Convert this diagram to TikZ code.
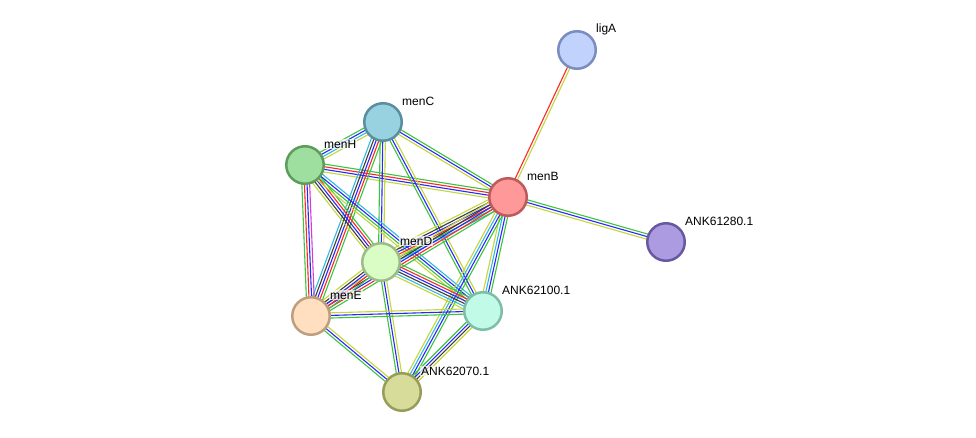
\documentclass[tikz,border=0pt]{standalone}
\usepackage{fontspec}
\setmainfont{Liberation Sans}
\usetikzlibrary{calc}

\definecolor{sgreen}{RGB}{60,196,60}
\definecolor{sred}{RGB}{250,40,40}
\definecolor{sblue}{RGB}{40,40,250}
\definecolor{sblack}{RGB}{60,60,60}
\definecolor{scyan}{RGB}{50,185,225}
\definecolor{smag}{RGB}{210,60,210}
\definecolor{syel}{RGB}{196,214,60}

% one bundle of parallel evidence lines between two nodes
\newcommand{\evlink}[4]{%
  \foreach \c [count=\i] in {#4}{
    \pgfmathsetmacro{\off}{(\i-(#3+1)/2)*2.6}
    \draw[\c,line width=1.1pt] ($(#1)!\off pt!90:(#2)$) -- ($(#2)!\off pt!-90:(#1)$);
  }%
}

\begin{document}
\begin{tikzpicture}[x=1pt,y=-1pt,
  gene/.style={circle,draw,line width=2.5pt,minimum size=37.5pt,inner sep=0pt},
  lbl/.style={anchor=west,font=\fontsize{12}{14}\selectfont,inner sep=1pt,
    fill=white,fill opacity=0.7,text opacity=1}]

\useasboundingbox (0,0) rectangle (976,438);

\coordinate (ligA) at (577,50);
\coordinate (menC) at (383,122);
\coordinate (menH) at (305,165);
\coordinate (menB) at (508,197);
\coordinate (ANK61280) at (666,242);
\coordinate (menD) at (381,262);
\coordinate (menE) at (311,316);
\coordinate (ANK62100) at (483,311);
\coordinate (ANK62070) at (402,392);

% evidence bundles
\evlink{ligA}{menB}{2}{sred,syel}
\evlink{menB}{ANK61280}{3}{syel,sblue,sgreen}
\evlink{menC}{menH}{4}{sgreen,sblue,scyan,syel}
\evlink{menC}{menB}{3}{syel,sblue,sgreen}
\evlink{menH}{menB}{4}{syel,sblue,sred,sgreen}
\evlink{menC}{menD}{3}{sgreen,sblue,syel}
\evlink{menC}{menE}{5}{scyan,sblack,sblue,sred,sgreen}
\evlink{menC}{ANK62100}{3}{sgreen,sblue,syel}
\evlink{menH}{menE}{4}{sgreen,sred,sblue,smag}
\evlink{menH}{menD}{5}{syel,sblack,sblue,sred,sgreen}
\evlink{menH}{ANK62100}{4}{syel,sgreen,sblue,scyan}
\evlink{menB}{menD}{6}{syel,sblack,sblue,sred,sgreen,scyan}
\evlink{menB}{menE}{5}{syel,sblack,sblue,sred,sgreen}
\evlink{menB}{ANK62100}{4}{syel,scyan,sblue,sgreen}
\evlink{menB}{ANK62070}{4}{syel,scyan,sblue,sgreen}
\evlink{menD}{menE}{5}{syel,sblack,sblue,sred,sgreen}
\evlink{menD}{ANK62100}{6}{syel,scyan,sblack,sblue,sred,sgreen}
\evlink{menD}{ANK62070}{3}{sgreen,sblue,syel}
\evlink{menE}{ANK62100}{3}{sgreen,sblue,syel}
\evlink{menE}{ANK62070}{3}{sgreen,sblue,syel}
\evlink{ANK62100}{ANK62070}{4}{sgreen,sblue,sblack,syel}

% proteins
\node[gene,fill={rgb,255:red,193;green,210;blue,252},draw={rgb,255:red,122;green,140;blue,192}] (n-ligA) at (ligA) {};
\node[gene,fill={rgb,255:red,152;green,210;blue,224},draw={rgb,255:red,88;green,142;blue,160}] (n-menC) at (menC) {};
\node[gene,fill={rgb,255:red,158;green,222;blue,158},draw={rgb,255:red,92;green,156;blue,92}] (n-menH) at (menH) {};
\node[gene,fill={rgb,255:red,255;green,152;blue,152},draw={rgb,255:red,190;green,90;blue,90}] (n-menB) at (menB) {};
\node[gene,fill={rgb,255:red,172;green,155;blue,224},draw={rgb,255:red,104;green,88;blue,160}] (n-ANK61280) at (ANK61280) {};
\node[gene,fill={rgb,255:red,218;green,253;blue,198},draw={rgb,255:red,156;green,188;blue,136}] (n-menD) at (menD) {};
\node[gene,fill={rgb,255:red,255;green,223;blue,192},draw={rgb,255:red,190;green,158;blue,126}] (n-menE) at (menE) {};
\node[gene,fill={rgb,255:red,194;green,250;blue,232},draw={rgb,255:red,126;green,190;blue,168}] (n-ANK62100) at (ANK62100) {};
\node[gene,fill={rgb,255:red,216;green,220;blue,154},draw={rgb,255:red,152;green,156;blue,90}] (n-ANK62070) at (ANK62070) {};

% names
\foreach \g/\t in {ligA/ligA,menC/menC,menH/menH,menB/menB,ANK61280/ANK61280.1,
    menD/menD,menE/menE,ANK62100/ANK62100.1,ANK62070/ANK62070.1}{
  \node[lbl] (l-\g) at ($(\g)+(18,-21)$) {\t};
}

\end{tikzpicture}
\end{document}
